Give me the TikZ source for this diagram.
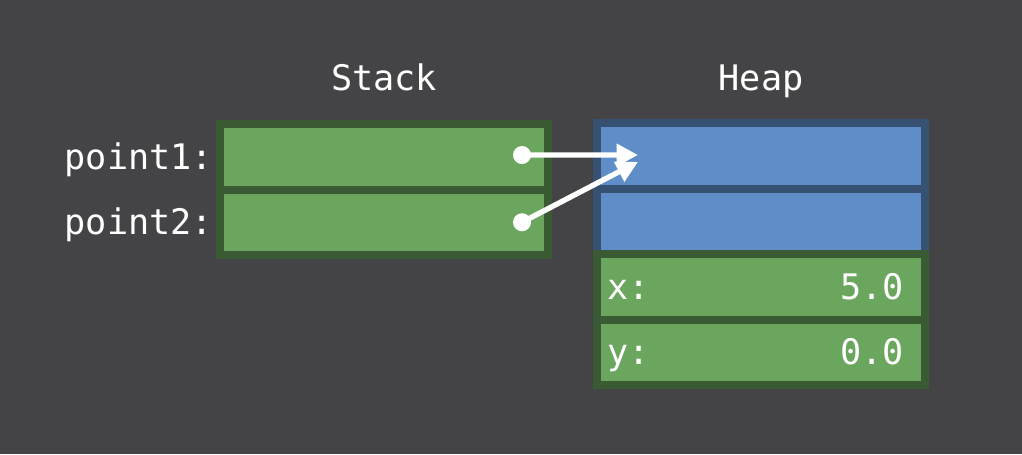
\documentclass[tikz,border=0pt]{standalone}
\usepackage{fontspec}
\setmonofont{DejaVu Sans Mono}
\usetikzlibrary{positioning,arrows.meta}
\definecolor{bgcolor}{HTML}{444446}
\definecolor{cellgreen}{HTML}{6BA65E}
\definecolor{edgegreen}{HTML}{3A5A34}
\definecolor{cellblue}{HTML}{5E8DC8}
\definecolor{edgeblue}{HTML}{375173}
\tikzset{
	greencell/.style={draw=edgegreen, fill=cellgreen, line width=6pt, minimum width=246pt, minimum height=49.125pt, inner sep=0pt, outer sep=0pt},
	bluecell/.style={greencell, draw=edgeblue, fill=cellblue},
	memtext/.style={text=white, inner sep=0pt, font=\ttfamily\fontsize{26.4}{30}\selectfont},
	dot/.style={circle, fill=white, minimum size=13.5pt, inner sep=0pt},
	pointer/.style={white, line width=4pt, -{Triangle[length=16pt,width=16pt]}}
}
\begin{document}
\begin{tikzpicture}[x=0.75pt, y=-0.75pt]
				\fill[bgcolor] (0,0) rectangle (1022,454);
				\useasboundingbox (0,0) rectangle (1022,454);
				% stack
				\node[greencell, anchor=north west] (s1) at (220,124) {};
				\node[greencell, below=0pt of s1] (s2) {};
				% heap
				\node[bluecell, anchor=north west] (h1) at (597,123) {};
				\node[bluecell, below=0pt of h1] (h2) {};
				\node[greencell, below=0pt of h2] (h3) {};
				\node[greencell, below=0pt of h3] (h4) {};
				\node[memtext, anchor=base] (stacktitle) at ([yshift=25.5pt]s1.north) {Stack};
				\node[memtext, anchor=base] (heaptitle) at ([yshift=24.75pt]h1.north) {Heap};
				\node[memtext, anchor=base east] (p1) at ([xshift=-5pt, yshift=-9.3pt]s1.west) {point1:};
				\node[memtext, anchor=base east] (p2) at ([xshift=-5pt, yshift=-9.5pt]s2.west) {point2:};
				\node[memtext, anchor=base west] (xname) at ([xshift=7.5pt, yshift=-9.7pt]h3.west) {x:};
				\node[memtext, anchor=base east] (xval) at ([xshift=-15.5pt, yshift=-9.7pt]h3.east) {5.0};
				\node[memtext, anchor=base west] (yname) at ([xshift=7.5pt, yshift=-9.5pt]h4.west) {y:};
				\node[memtext, anchor=base east] (yval) at ([xshift=-15.5pt, yshift=-9.5pt]h4.east) {0.0};
				% pointers
				\node[dot] (d1) at ([xshift=-19.5pt, yshift=1.3pt]s1.east) {};
				\node[dot] (d2) at ([xshift=-19.5pt]s2.east) {};
				\coordinate (t1) at ([xshift=30.75pt, yshift=0.6pt]h1.west);
				\coordinate (t2) at ([xshift=30.75pt, yshift=-4.6pt]h1.west);
				\draw[pointer] (d1.center) -- (t1);
				\draw[pointer] (d2.center) -- (t2);
			\end{tikzpicture}
\end{document}
